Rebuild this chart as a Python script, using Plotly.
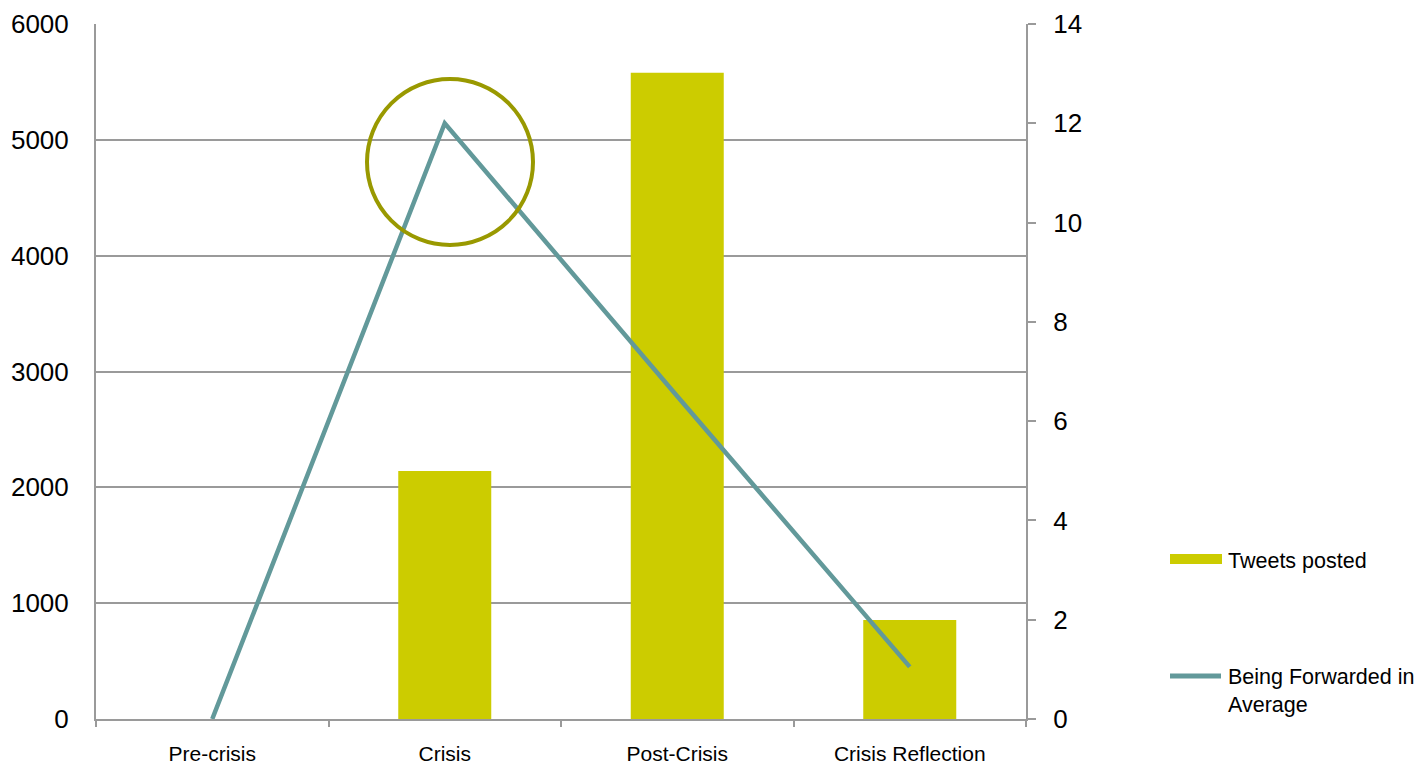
import plotly.graph_objects as go

# Tweet activity across crisis phases
phases = ["Pre-crisis", "Crisis", "Post-Crisis", "Crisis Reflection"]
tweets_posted = [0, 2140, 5580, 855]
avg_forwarded = [0, 12, 6.5, 1.05]

BAR_COLOR = "#cccc00"
LINE_COLOR = "#62999a"
GRID_COLOR = "#9a9a9a"
FONT = "Liberation Sans, Arial, sans-serif"

fig = go.Figure()

fig.add_trace(go.Bar(
    x=phases, y=tweets_posted, name="Tweets posted",
    marker=dict(color=BAR_COLOR, line=dict(width=0)),
    width=0.4, showlegend=False,
))

fig.add_trace(go.Scatter(
    x=phases, y=avg_forwarded, name="Being Forwarded in Average",
    mode="lines", line=dict(color=LINE_COLOR, width=4.5),
    yaxis="y2", showlegend=False,
))

# Highlight ring around the crisis peak
fig.add_shape(
    type="circle", xref="paper", yref="paper",
    x0=(367 - 96) / 930, x1=(533 - 96) / 930,
    y0=(719 - 245) / 695, y1=(719 - 79) / 695,
    line=dict(color="#999900", width=4),
)

# Legend drawn at the right of the plot
fig.add_shape(type="rect", xref="paper", yref="paper",
              x0=(1170 - 96) / 930, x1=(1222 - 96) / 930,
              y0=(719 - 564) / 695, y1=(719 - 554) / 695,
              fillcolor=BAR_COLOR, line=dict(width=0))
fig.add_shape(type="line", xref="paper", yref="paper",
              x0=(1170 - 96) / 930, x1=(1221 - 96) / 930,
              y0=(719 - 676) / 695, y1=(719 - 676) / 695,
              line=dict(color=LINE_COLOR, width=5))
fig.add_annotation(xref="paper", yref="paper",
                   x=(1226 - 96) / 930, y=(719 - 561) / 695,
                   xanchor="left", yanchor="middle", showarrow=False,
                   text="Tweets posted", align="left",
                   font=dict(family=FONT, size=21.5, color="#000000"))
fig.add_annotation(xref="paper", yref="paper",
                   x=(1226 - 96) / 930, y=(719 - 663) / 695,
                   xanchor="left", yanchor="top", showarrow=False,
                   text="Being Forwarded in<br>Average", align="left",
                   font=dict(family=FONT, size=21.5, color="#000000"))

fig.update_layout(
    width=1414, height=765,
    margin=dict(l=96, r=388, t=24, b=46),
    paper_bgcolor="white", plot_bgcolor="white",
    font=dict(family=FONT, color="#000000"),
    bargap=0.6,
    xaxis=dict(
        type="category", showgrid=False, automargin=False,
        showline=True, linecolor=GRID_COLOR, linewidth=2,
        ticks="outside", tickson="boundaries", ticklen=6,
        tickcolor=GRID_COLOR, tickwidth=2,
        tickfont=dict(family=FONT, size=21),
        ticklabelstandoff=15,
    ),
    yaxis=dict(
        range=[0, 6000], tickvals=[0, 1000, 2000, 3000, 4000, 5000, 6000],
        showgrid=True, gridcolor=GRID_COLOR, gridwidth=2, automargin=False,
        showline=True, linecolor=GRID_COLOR, linewidth=2,
        zeroline=False, ticks="",
        tickfont=dict(family=FONT, size=26),
        ticklabelstandoff=20,
    ),
    yaxis2=dict(
        range=[0, 14], tickvals=[0, 2, 4, 6, 8, 10, 12, 14],
        overlaying="y", side="right", showgrid=False, automargin=False,
        showline=True, linecolor=GRID_COLOR, linewidth=2,
        zeroline=False, ticks="outside", ticklen=8,
        tickcolor=GRID_COLOR, tickwidth=2,
        tickfont=dict(family=FONT, size=26),
        ticklabelstandoff=12,
    ),
)

fig.write_html("out.html")
